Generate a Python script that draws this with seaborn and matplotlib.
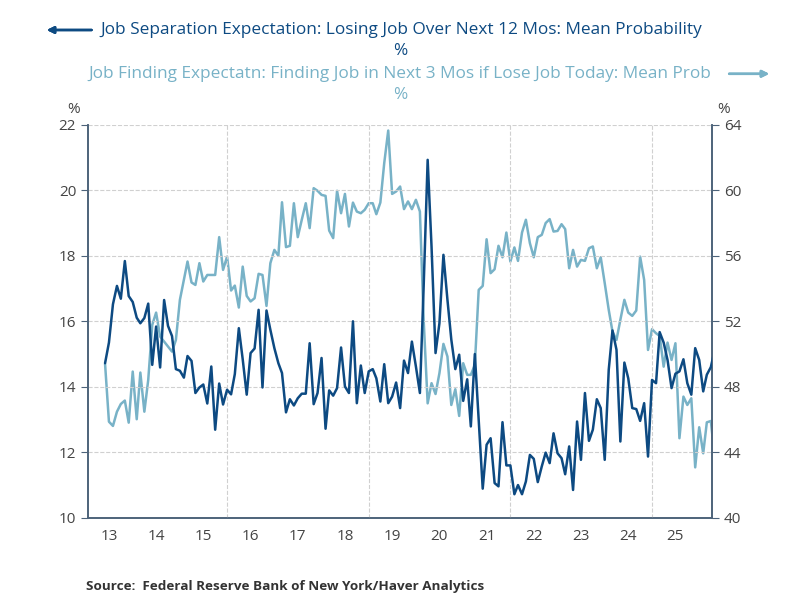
import numpy as np
import pandas as pd
import matplotlib
matplotlib.use("Agg")
import matplotlib.pyplot as plt
import matplotlib.dates as mdates
import seaborn as sns

# monthly values, Jun 2013 onwards
separation = [
    14.72, 15.35, 16.52, 17.08, 16.69, 17.84, 16.77, 16.59, 16.11, 15.94, 16.10, 16.54,
    14.67, 15.84, 14.59, 16.65, 15.86, 15.55, 14.54, 14.49, 14.28, 14.94, 14.79, 13.81,
    13.98, 14.07, 13.49, 14.62, 12.69, 14.10, 13.46, 13.91, 13.77, 14.39, 15.79, 14.84,
    13.76, 15.03, 15.17, 16.35,
    13.98, 16.33, 15.74, 15.18, 14.72, 14.42, 13.22, 13.62, 13.43, 13.65, 13.79, 13.79,
    15.33, 13.47, 13.81, 14.88, 12.72, 13.89, 13.73, 13.96, 15.20, 14.01, 13.81, 16.00,
    13.50, 14.65, 13.81, 14.47, 14.54, 14.26, 13.55, 14.69, 13.50, 13.70, 14.13, 13.35,
    14.80, 14.42, 15.38,
    14.62, 13.81, 17.06, 20.93, 18.28, 15.03, 15.94, 18.03, 16.66, 15.44, 14.54, 14.98,
    13.57, 14.23, 12.79, 15.00, 12.99, 10.89, 12.23, 12.43, 11.06, 10.96, 12.92, 11.60,
    11.60, 10.72, 11.00, 10.72, 11.11, 11.92, 11.80, 11.09, 11.57, 11.99, 11.67, 12.58,
    11.97, 11.82, 11.33, 12.18,
    10.85, 12.94, 11.77, 13.81, 12.35, 12.69, 13.62, 13.35, 11.77, 14.52, 15.72, 15.13,
    12.33, 14.74, 14.26, 13.35, 13.32, 12.96, 13.50, 11.87, 14.21, 14.11, 15.67, 15.35,
    14.82, 13.96, 14.40, 14.47, 14.84, 14.11, 13.76, 15.18, 14.82, 13.86, 14.37, 14.60,
    15.13,
]
finding = [
    49.40, 45.87, 45.61, 46.48, 46.95, 47.16, 45.81, 48.93, 46.02, 48.87, 46.48, 48.42,
    51.78, 52.53, 51.07, 50.76, 50.46, 50.15, 50.86, 53.31, 54.53, 55.65, 54.37, 54.22,
    55.55, 54.43, 54.83, 54.83, 54.83, 57.14, 55.14, 55.95, 53.88, 54.18, 52.84, 55.34,
    53.55, 53.21, 53.41, 54.90,
    54.83, 52.94, 55.55, 56.36, 56.00, 59.27, 56.53, 56.61, 59.21, 57.14, 58.20, 59.21,
    57.69, 60.13, 59.97, 59.72, 59.66, 57.54, 57.08, 59.97, 58.60, 59.78, 57.79, 59.25,
    58.70, 58.60, 58.81, 59.21, 59.21, 58.54, 59.25, 61.66, 63.65, 59.78, 59.93, 60.23,
    58.85, 59.32, 58.85,
    59.42, 58.70, 52.09, 46.99, 48.22, 47.56, 48.83, 50.62, 49.85, 46.89, 47.85, 46.22,
    49.44, 48.73, 48.73, 49.34, 53.92, 54.16, 57.01, 54.94, 55.18, 56.61, 55.91, 57.42,
    55.65, 56.51, 55.69, 57.42, 58.20, 56.77, 55.91, 57.14, 57.28, 58.00, 58.24, 57.48,
    57.52, 57.93, 57.63, 55.24,
    56.36, 55.34, 55.75, 55.69, 56.46, 56.57, 55.24, 55.91, 54.33, 52.70, 51.37, 50.86,
    52.09, 53.31, 52.53, 52.33, 52.66, 55.95, 54.53, 50.25, 51.52, 51.27, 51.11, 49.23,
    50.70, 49.64, 50.66, 44.86, 47.40, 46.89, 47.30, 43.08, 45.53, 43.94, 45.83, 45.91,
    43.69,
]
df = pd.DataFrame({"date": pd.date_range("2013-06-01", periods=len(separation), freq="MS"),
                   "separation": separation, "finding": finding})

dark = "#0d4a82"
light = "#78b2c7"
spine = "#4d637a"

sns.set_style("white")
plt.rcParams['font.family'] = ['Open Sans', 'DejaVu Sans']

fig = plt.figure(figsize=(8, 6), dpi=100)
ax = fig.add_axes([0.11, 0.137, 0.78, 0.655])
ax2 = ax.twinx()

sns.lineplot(data=df, x="date", y="separation", ax=ax, color=dark, linewidth=1.8, zorder=3)
sns.lineplot(data=df, x="date", y="finding", ax=ax2, color=light, linewidth=1.8)
ax.set_zorder(ax2.get_zorder() + 1)
ax.patch.set_visible(False)

ax.set_xlim(pd.Timestamp("2013-01-20"), pd.Timestamp("2026-04-10"))
ax.set_ylim(10, 22)
ax2.set_ylim(40, 64)
ax.set_yticks(range(10, 23, 2))
ax2.set_yticks(range(40, 65, 4))
ax.set_xlabel("")
ax.set_ylabel("")
ax2.set_ylabel("")

ax.xaxis.set_major_locator(mdates.YearLocator(1))
ax.xaxis.set_major_formatter(plt.NullFormatter())
ax.xaxis.set_minor_locator(mdates.MonthLocator(bymonth=7, bymonthday=1))
ax.xaxis.set_minor_formatter(mdates.DateFormatter("%y"))
ax.tick_params(axis="x", which="major", length=7, color=spine, direction="out")
ax.tick_params(axis="x", which="minor", length=0, labelsize=11, labelcolor="#444444", pad=8)
ax.tick_params(axis="y", length=5, color=spine, labelsize=11, labelcolor="#444444")
ax2.tick_params(axis="y", length=5, color=spine, labelsize=11, labelcolor="#444444")

for a in (ax, ax2):
    for s in ("left", "right", "bottom"):
        a.spines[s].set_color(spine)
        a.spines[s].set_linewidth(1.2)
    a.spines["top"].set_visible(False)

ax.grid(False)
ax2.grid(False)
for v in range(12, 23, 2):
    ax.axhline(v, color="#d0d0d0", linestyle="--", linewidth=0.8, zorder=0)
for yr in (2016, 2019, 2022, 2025):
    ax.axvline(pd.Timestamp(f"{yr}-01-01"), color="#d0d0d0", linestyle="--", linewidth=0.8, zorder=0)

fig.text(0.092, 0.812, "%", fontsize=11, color="#444444", ha="center")
fig.text(0.905, 0.812, "%", fontsize=11, color="#444444", ha="center")

fig.text(0.125, 0.95, "Job Separation Expectation: Losing Job Over Next 12 Mos: Mean Probability",
         fontsize=12.4, color=dark, ha="left", va="center")
fig.text(0.5, 0.915, "%", fontsize=12.4, color=dark, ha="center", va="center")
fig.text(0.11, 0.877, "Job Finding Expectatn: Finding Job in Next 3 Mos if Lose Job Today: Mean Prob",
         fontsize=12.4, color=light, ha="left", va="center")
fig.text(0.5, 0.842, "%", fontsize=12.4, color=light, ha="center", va="center")
fig.add_artist(plt.annotate("", xy=(0.055, 0.95), xytext=(0.118, 0.95), xycoords="figure fraction",
                            arrowprops=dict(arrowstyle="-|>", color=dark, lw=1.8)))
fig.add_artist(plt.annotate("", xy=(0.965, 0.877), xytext=(0.908, 0.877), xycoords="figure fraction",
                            arrowprops=dict(arrowstyle="-|>", color=light, lw=1.8)))

fig.text(0.108, 0.017, "Source:  Federal Reserve Bank of New York/Haver Analytics",
         fontsize=9.7, fontweight="bold", color="#333333", ha="left")

plt.savefig("out.png", dpi=100)
